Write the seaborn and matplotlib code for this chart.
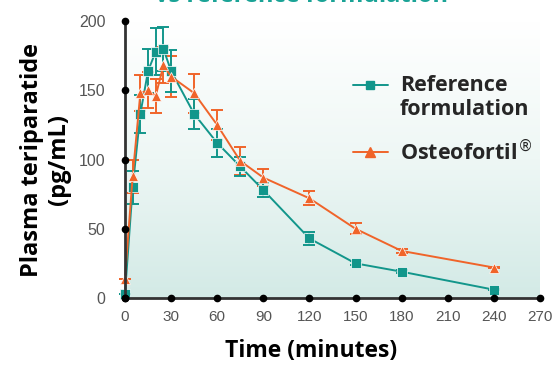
import numpy as np
import pandas as pd
import matplotlib
matplotlib.use('agg')
import matplotlib.pyplot as plt
import seaborn as sns
from matplotlib.colors import LinearSegmentedColormap
from matplotlib.lines import Line2D

# time points (minutes)
time = [0, 5, 10, 15, 20, 25, 30, 45, 60, 75, 90, 120, 150, 180, 240]

# Reference formulation (teal squares)
ref_mean = [3, 80, 133, 164, 178, 180, 164, 133, 112, 95, 78, 43, 25, 19, 6]
ref_err = [0, 12, 14, 16, 17, 16, 15, 11, 10, 7, 5, 4.5, 1.5, 1, 0.5]

# Osteofortil (orange triangles)
ost_mean = [14, 88, 148, 150, 146, 168, 160, 148, 125, 99, 87, 72, 50, 34, 22]
ost_err = [0, 12, 13, 13, 12, 13, 15, 14, 11, 10, 6, 5, 4, 1.5, 0.5]

x_ticks = [0, 30, 60, 90, 120, 150, 180, 210, 240, 270]
y_ticks = [0, 50, 100, 150, 200]

teal = '#12968b'
orange = '#f0642a'

df = pd.concat([
    pd.DataFrame({'Time': time, 'Conc': ref_mean, 'Group': 'Reference'}),
    pd.DataFrame({'Time': time, 'Conc': ost_mean, 'Group': 'Osteofortil'}),
])

sns.set_style('white')
plt.rcParams['font.family'] = ['Open Sans', 'DejaVu Sans']

fig = plt.figure(figsize=(5.52, 3.65), dpi=100)
ax = fig.add_axes([0.2264, 0.1836, 0.7518, 0.7584])

# background gradient (white at top -> light teal at bottom)
cmap = LinearSegmentedColormap.from_list('bg', ['#ffffff', '#eef7f5', '#d3eae6'])
grad = np.linspace(0, 1, 256).reshape(-1, 1)
ax.imshow(grad, extent=[0, 270, 0, 200], aspect='auto', cmap=cmap, origin='upper', zorder=0)

# error bars
ax.errorbar(time, ost_mean, yerr=ost_err, fmt='none', ecolor=orange, elinewidth=1.4,
            capsize=4, capthick=1.4, zorder=2, clip_on=False)
ax.errorbar(time, ref_mean, yerr=ref_err, fmt='none', ecolor=teal, elinewidth=1.4,
            capsize=4, capthick=1.4, zorder=3, clip_on=False)

sns.lineplot(data=df, x='Time', y='Conc', hue='Group', style='Group',
             palette={'Reference': teal, 'Osteofortil': orange},
             markers={'Reference': 's', 'Osteofortil': '^'},
             dashes=False, markersize=7.5, markeredgewidth=0.5, linewidth=1.4,
             ax=ax, legend=False, zorder=3, clip_on=False)

ax.set_xlim(0, 270)
ax.set_ylim(0, 200)
ax.set_xticks(x_ticks)
ax.set_yticks(y_ticks)
ax.tick_params(axis='x', length=0, pad=9, labelsize=11, labelcolor='#555555')
ax.tick_params(axis='y', length=0, pad=14, labelsize=11.5, labelcolor='#555555')
for lab in ax.get_xticklabels() + ax.get_yticklabels():
    lab.set_fontfamily(['Liberation Sans', 'DejaVu Sans'])

for s in ['top', 'right']:
    ax.spines[s].set_visible(False)
for s in ['left', 'bottom']:
    ax.spines[s].set_color('#333333')
    ax.spines[s].set_linewidth(2)
    ax.spines[s].set_zorder(4)

# tick dots
ax.plot(x_ticks, [0] * len(x_ticks), 'o', color='black', markersize=4.5, clip_on=False, zorder=5)
ax.plot([0] * len(y_ticks), y_ticks, 'o', color='black', markersize=4.5, clip_on=False, zorder=5)

ax.set_xlabel('Time (minutes)', fontsize=16.5, fontweight='bold', color='black')
ax.xaxis.set_label_coords(0.448, -0.191)
ax.xaxis.label.set_va('center')
ax.set_ylabel('Plasma teriparatide\n(pg/mL)', fontsize=17, fontweight='bold', color='black',
              linespacing=1.15)
ax.yaxis.set_label_coords(-0.13, 0.5)

# legend drawn by hand so the handle lines up with the first text line
for yh, col, mk, ms in [(0.767, teal, 's', 6), (0.584, orange, '^', 7.5)]:
    fig.add_artist(Line2D([0.6395, 0.703], [yh, yh], color=col, linewidth=1.4,
                          transform=fig.transFigure))
    fig.add_artist(Line2D([0.671], [yh], color=col, marker=mk, markersize=ms,
                          linestyle='none', transform=fig.transFigure))
fig.text(0.7246, 0.767, 'Reference', fontsize=15.5, fontweight='bold', va='center')
fig.text(0.7246, 0.699, 'formulation', fontsize=15.5, fontweight='bold', va='center')
fig.text(0.7246, 0.584, r'Osteofortil$^{\circledR}$', fontsize=15.5, fontweight='bold', va='center')

# cropped title at the very top
fig.text(0.547, 0.995, 'vs reference formulation', ha='center', va='baseline',
         fontsize=17, fontweight='bold', color='#1aa396')

fig.savefig('out.png', dpi=100)
